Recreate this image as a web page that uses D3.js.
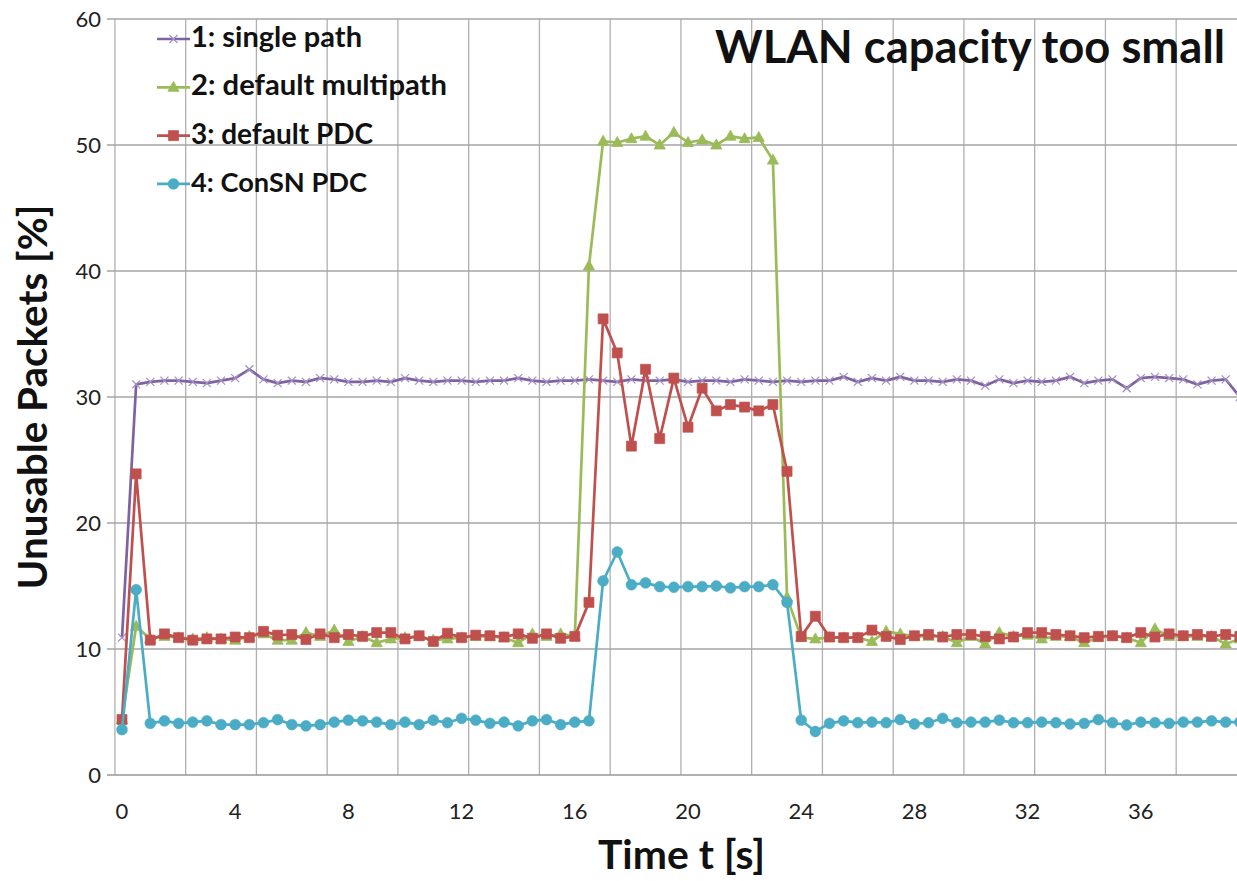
<!DOCTYPE html>
<html><head><meta charset="utf-8">
<script src="https://cdn.jsdelivr.net/npm/d3@7"></script>
<style>body{margin:0;background:#fff}svg{display:block}</style>
</head><body>
<svg id="chart" width="1237" height="881"></svg>
<script>
// ---------------- data ----------------
const times = [0,0.5,1,1.5,2,2.5,3,3.5,4,4.5,5,5.5,6,6.5,7,7.5,8,8.5,9,9.5,
  10,10.5,11,11.5,12,12.5,13,13.5,14,14.5,15,15.5,16,16.5,17,17.5,18,18.5,19,19.5,
  20,20.5,21,21.5,22,22.5,23,23.5,24,24.5,25,25.5,26,26.5,27,27.5,28,28.5,29,29.5,
  30,30.5,31,31.5,32,32.5,33,33.5,34,34.5,35,35.5,36,36.5,37,37.5,38,38.5,39,39.5];
const xTickValues = [0,4,8,12,16,20,24,28,32,36];
const yTickValues = [0,10,20,30,40,50,60];
const seriesNames = ["1: single path","2: default multipath","3: default PDC","4: ConSN PDC"];

const singlePath = [10.9,31.0,31.2,31.3,31.3,31.2,31.1,31.3,31.5,32.2,
  31.4,31.1,31.3,31.2,31.5,31.4,31.2,31.2,31.3,31.2,
  31.5,31.3,31.2,31.3,31.3,31.2,31.3,31.3,31.5,31.3,
  31.2,31.3,31.3,31.4,31.3,31.2,31.4,31.3,31.3,31.4,
  31.2,31.3,31.3,31.2,31.4,31.3,31.2,31.3,31.2,31.3,
  31.3,31.6,31.2,31.5,31.3,31.6,31.3,31.3,31.2,31.4,
  31.3,30.9,31.4,31.1,31.3,31.2,31.3,31.6,31.1,31.3,
  31.4,30.7,31.5,31.6,31.5,31.4,31.0,31.3,31.4,30.0];
const defaultMultipath = [4.4,11.8,10.8,11.0,10.9,10.8,10.9,10.8,10.7,11.0,
  11.2,10.7,10.7,11.3,11.0,11.5,10.6,11.0,10.5,10.8,
  10.9,11.0,10.7,10.8,10.9,11.0,11.0,10.9,10.5,11.2,
  11.0,11.2,11.0,40.4,50.3,50.2,50.5,50.7,50.0,51.0,
  50.2,50.4,50.0,50.7,50.5,50.6,48.8,14.1,10.9,10.8,
  10.9,10.9,10.9,10.6,11.4,11.2,11.0,11.0,11.0,10.5,
  11.0,10.4,11.3,11.0,11.1,10.8,11.0,11.0,10.5,10.9,
  11.0,10.9,10.5,11.6,11.0,11.0,11.0,11.0,10.4,10.8];
const defaultPDC = [4.4,23.9,10.7,11.2,10.9,10.7,10.8,10.8,10.95,10.9,
  11.4,11.1,11.15,10.75,11.2,10.9,11.15,11.0,11.3,11.3,
  10.8,11.05,10.6,11.25,10.9,11.1,11.05,10.95,11.2,10.85,
  11.2,10.85,11.0,13.7,36.2,33.5,26.1,32.2,26.7,31.5,
  27.6,30.7,28.9,29.4,29.2,28.9,29.4,24.1,11.0,12.6,
  10.95,10.9,10.9,11.5,11.0,10.75,11.05,11.15,10.95,11.15,
  11.15,11.0,10.8,10.95,11.3,11.3,11.15,11.05,10.9,11.0,
  11.05,10.9,11.3,10.95,11.2,11.05,11.15,11.0,11.15,11.0];
const consnPDC = [3.6,14.7,4.1,4.3,4.1,4.2,4.3,4.0,4.0,4.0,
  4.15,4.4,4.0,3.9,4.0,4.2,4.35,4.3,4.2,4.0,
  4.2,4.0,4.35,4.15,4.5,4.35,4.1,4.2,3.9,4.3,
  4.4,4.0,4.2,4.3,15.4,17.7,15.1,15.25,14.95,14.9,
  14.95,14.95,15.0,14.85,14.95,14.95,15.1,13.7,4.35,3.45,
  4.1,4.3,4.15,4.2,4.15,4.4,4.05,4.15,4.5,4.15,
  4.2,4.2,4.35,4.15,4.15,4.2,4.15,4.05,4.1,4.4,
  4.15,3.97,4.2,4.15,4.1,4.2,4.2,4.3,4.2,4.2];

const titleText = "WLAN capacity too small";
const xTitle = "Time t [s]";
const yTitle = "Unusable Packets [%]";

// ---------------- drawing ----------------
const FONT = "Lato, 'Open Sans', sans-serif";
const svg = d3.select("#chart");
const W = 1237, H = 881;
const x = d3.scaleLinear().domain([0, 39.5]).range([122, 1239.85]);
const y = d3.scaleLinear().domain([0, 60]).range([775, 19]);
const half = (times[1] - times[0]) / 2;

const colors = ["#7f63a1", "#9bbb59", "#c0504d", "#4bacc6"];
const markers = [
  {path: "M-4,-4L4,4M-4,4L4,-4", fill: "none", stroke: "#a590c6", sw: 1.3},
  {path: "M0,-6L5.6,4L-5.6,4Z", fill: "#9bbb59", stroke: "#9bbb59", sw: 0.8},
  {path: "M-5,-5H5V5H-5Z", fill: "#c0504d", stroke: "#c0504d", sw: 0.7},
  {path: d3.symbol(d3.symbolCircle, 92)(), fill: "#4bacc6", stroke: "#4bacc6", sw: 0.6}
];
const seriesData = [singlePath, defaultMultipath, defaultPDC, consnPDC];

const clipId = "plotclip";
svg.append("defs").append("clipPath").attr("id", clipId)
  .append("rect").attr("x", 0).attr("y", 0).attr("width", W).attr("height", H);

// gridlines
const gGrid = svg.append("g");
const vLines = times.filter((d, i) => i % 5 === 0).map(t => t - half);
gGrid.selectAll("line.v").data(vLines).join("line")
  .attr("x1", d => x(d)).attr("x2", d => x(d))
  .attr("y1", y(60)).attr("y2", y(0))
  .attr("stroke", "#b0b0b0").attr("stroke-width", 1.3);
gGrid.selectAll("line.h").data(yTickValues).join("line")
  .attr("x1", x(times[0] - half) - 8).attr("x2", W)
  .attr("y1", d => y(d)).attr("y2", d => y(d))
  .attr("stroke", d => d === 0 ? "#969696" : "#a4a4a4").attr("stroke-width", 1.3);

// tick labels
svg.append("g").selectAll("text").data(yTickValues).join("text")
  .attr("x", 101).attr("y", d => y(d)).attr("dy", "0.36em")
  .attr("text-anchor", "end").attr("font-family", FONT).attr("font-size", 22)
  .attr("fill", "#222").text(d => d);
svg.append("g").selectAll("text").data(xTickValues).join("text")
  .attr("x", d => x(d)).attr("y", 819)
  .attr("text-anchor", "middle").attr("font-family", FONT).attr("font-size", 22)
  .attr("fill", "#222").text(d => d);

// series
const gSeries = svg.append("g").attr("clip-path", `url(#${clipId})`);
seriesData.forEach((vals, si) => {
  const pts = times.map((t, i) => [t, vals[i]]);
  gSeries.append("path").datum(pts)
    .attr("fill", "none").attr("stroke", colors[si]).attr("stroke-width", 2.7)
    .attr("stroke-linejoin", "round")
    .attr("d", d3.line().x(d => x(d[0])).y(d => y(d[1])));
  gSeries.append("g").selectAll("path").data(pts).join("path")
    .attr("transform", d => `translate(${x(d[0])},${y(d[1])})`)
    .attr("d", markers[si].path)
    .attr("fill", markers[si].fill).attr("stroke", markers[si].stroke)
    .attr("stroke-width", markers[si].sw);
});

function fit(sel, target) {
  const w = sel.node().getComputedTextLength();
  const fs = parseFloat(sel.attr("font-size"));
  sel.attr("font-size", (fs * target / w).toFixed(2));
}

// legend
const legend = svg.append("g");
seriesNames.forEach((name, i) => {
  const cy = 39 + i * 48.3;
  legend.append("line").attr("x1", 157).attr("x2", 190).attr("y1", cy).attr("y2", cy)
    .attr("stroke", colors[i]).attr("stroke-width", 2.7);
  legend.append("path").attr("transform", `translate(173.5,${cy})`)
    .attr("d", markers[i].path).attr("fill", markers[i].fill)
    .attr("stroke", markers[i].stroke).attr("stroke-width", markers[i].sw);
  const t = legend.append("text").attr("x", 191).attr("y", cy + 8)
    .attr("font-family", FONT).attr("font-weight", "bold").attr("font-size", 23)
    .attr("fill", "#111").text(name);
  fit(t, [171, 256, 182, 176][i]);
});

// titles
const tt = svg.append("text").attr("x", 715).attr("y", 63)
  .attr("font-family", FONT).attr("font-weight", "bold").attr("font-size", 36)
  .attr("fill", "#111").text(titleText);
fit(tt, 510);
const xt = svg.append("text").attr("x", 681.5).attr("y", 869).attr("text-anchor", "middle")
  .attr("font-family", FONT).attr("font-weight", "bold").attr("font-size", 34)
  .attr("fill", "#111").text(xTitle);
fit(xt, 167);
const yt = svg.append("text").attr("transform", "translate(47,397) rotate(-90)")
  .attr("text-anchor", "middle")
  .attr("font-family", FONT).attr("font-weight", "bold").attr("font-size", 34)
  .attr("fill", "#111").text(yTitle);
fit(yt, 385);
</script>
</body></html>
